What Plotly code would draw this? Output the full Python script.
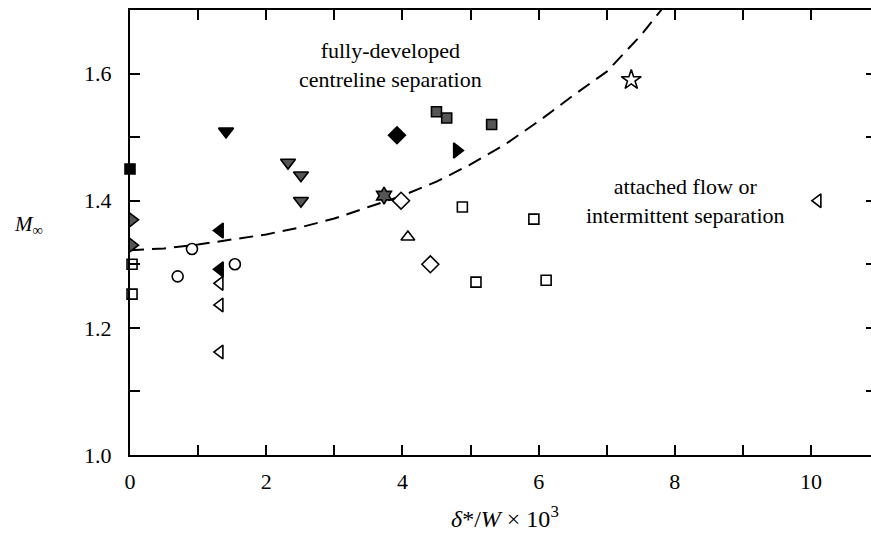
import plotly.graph_objects as go

# ---- data ----
curve_x = [0, 0.5, 1, 1.5, 2, 2.5, 3, 3.5, 4, 4.5, 5, 5.5, 6, 6.5, 7, 7.5, 7.8, 7.9]
curve_m = [1.322, 1.325, 1.331, 1.339, 1.347, 1.358, 1.372, 1.390, 1.408, 1.430,
           1.457, 1.488, 1.525, 1.565, 1.603, 1.660, 1.700, 1.716]

black_sq_x = [0.0];            black_sq_m = [1.45]
gray_rtri_x = [0.03, 0.03];    gray_rtri_m = [1.37, 1.33]
open_sq_x = [0.03, 0.03, 4.88, 5.08, 5.93, 6.11]
open_sq_m = [1.30, 1.253, 1.39, 1.272, 1.371, 1.275]
black_ltri_x = [1.32, 1.32];   black_ltri_m = [1.353, 1.292]
open_circ_x = [0.91, 0.70, 1.54]; open_circ_m = [1.324, 1.281, 1.30]
open_ltri_x = [1.32, 1.32, 1.32, 10.1]; open_ltri_m = [1.27, 1.236, 1.162, 1.40]
black_dtri_x = [1.41];         black_dtri_m = [1.509]
gray_dtri_x = [2.32, 2.51, 2.51]; gray_dtri_m = [1.46, 1.44, 1.40]
black_dia_x = [3.92];          black_dia_m = [1.503]
gray_sq_x = [4.50, 4.65, 5.31]; gray_sq_m = [1.54, 1.53, 1.52]
black_rtri_x = [4.80];         black_rtri_m = [1.479]
gray_hex_x = [3.73];           gray_hex_m = [1.408]
open_dia_x = [3.98, 4.41];     open_dia_m = [1.40, 1.30]
open_utri_x = [4.08];          open_utri_m = [1.343]
open_star_x = [7.36];          open_star_m = [1.59]

FONT = "Liberation Serif, Times New Roman, serif"
GRAY = "#555555"

fig = go.Figure()

fig.add_trace(go.Scatter(x=curve_x, y=curve_m, mode="lines",
                         line=dict(color="black", width=2, dash="14px,8px"),
                         showlegend=False, hoverinfo="skip"))

def add(xs, ms, symbol, fill, size=11, lw=1.6):
    fig.add_trace(go.Scatter(
        x=xs, y=ms, mode="markers", cliponaxis=False, showlegend=False,
        marker=dict(symbol=symbol, size=size, color=fill,
                    line=dict(color="black", width=lw))))

add(black_sq_x, black_sq_m, "square", "black", 10)
add(gray_rtri_x, gray_rtri_m, "triangle-right", GRAY, 13)
add(open_sq_x, open_sq_m, "square", "white", 10)
add(black_ltri_x, black_ltri_m, "triangle-left", "black", 13)
add(open_circ_x, open_circ_m, "circle", "white", 11)
add(open_ltri_x, open_ltri_m, "triangle-left", "white", 12)
add(black_dtri_x, black_dtri_m, "triangle-down", "black", 13)
add(gray_dtri_x, gray_dtri_m, "triangle-down", GRAY, 13)
add(black_dia_x, black_dia_m, "diamond", "black", 13)
add(gray_sq_x, gray_sq_m, "square", GRAY, 10)
add(black_rtri_x, black_rtri_m, "triangle-right", "black", 13)
add(gray_hex_x, gray_hex_m, "hexagram", GRAY, 13)
add(open_dia_x, open_dia_m, "diamond", "white", 13)
add(open_utri_x, open_utri_m, "triangle-up", "white", 12)
add(open_star_x, open_star_m, "star", "white", 15)

# dummy trace to carry the right-hand tick axis
fig.add_trace(go.Scatter(x=[0], y=[1.0], yaxis="y2", mode="markers",
                         marker=dict(opacity=0), showlegend=False, hoverinfo="skip"))

tick_common = dict(ticks="inside", ticklen=10, tickwidth=2, tickcolor="black")
minor_common = dict(ticks="inside", ticklen=10, tickwidth=2, tickcolor="black")

fig.update_layout(
    width=871, height=534,
    margin=dict(l=130, r=0, t=10, b=79),
    paper_bgcolor="white", plot_bgcolor="white",
    font=dict(family=FONT, size=22, color="black"),
    xaxis=dict(range=[0, 10.88], tickmode="linear", tick0=0, dtick=2,
               minor=dict(dtick=1, **minor_common), **tick_common,
               showline=True, linecolor="black", linewidth=2, mirror="ticks",
               showgrid=False, zeroline=False, ticklabelstandoff=6,
               tickfont=dict(family=FONT, size=22)),
    yaxis=dict(range=[1.0, 1.7], tickmode="linear", tick0=1.0, dtick=0.2,
               tickformat=".1f", minor=dict(dtick=0.1, **minor_common), **tick_common,
               showline=True, linecolor="black", linewidth=2,
               showgrid=False, zeroline=False, ticklabelstandoff=12,
               tickfont=dict(family=FONT, size=22)),
    yaxis2=dict(range=[1.0, 1.7], overlaying="y", side="right", tickmode="linear",
                tick0=1.0, dtick=0.1, ticks="inside", ticklen=5, tickwidth=2,
                tickcolor="black", showticklabels=False, showline=False,
                showgrid=False, zeroline=False),
)

fig.add_annotation(text="fully-developed<br>centreline separation", x=3.82, y=1.614,
                   xref="x", yref="y", showarrow=False, align="center",
                   font=dict(family=FONT, size=22))
fig.add_annotation(text="attached flow or<br>intermittent separation", x=8.15, y=1.40,
                   xref="x", yref="y", showarrow=False, align="center",
                   font=dict(family=FONT, size=22))
fig.add_annotation(text="<i>δ</i>*/<i>W</i> × 10<sup>3</sup>", x=5.5, y=0,
                   xref="x", yref="paper", yshift=-62, yanchor="middle",
                   showarrow=False, font=dict(family=FONT, size=24))
fig.add_annotation(text="<i>M</i><sub>∞</sub>", x=0, y=1.362, xref="paper", yref="y",
                   xshift=-102, xanchor="center", showarrow=False,
                   font=dict(family=FONT, size=21))

fig.write_html("out.html")
